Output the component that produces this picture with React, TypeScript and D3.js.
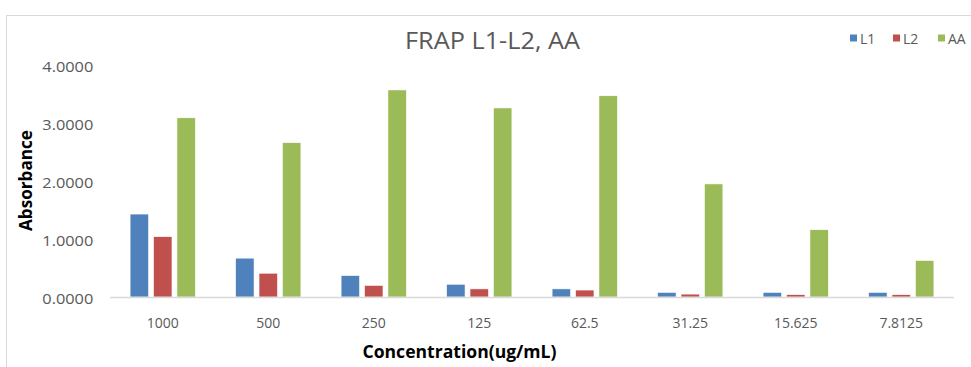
import * as d3 from 'd3';

const categories = ['1000', '500', '250', '125', '62.5', '31.25', '15.625', '7.8125'];
const seriesNames = ['L1', 'L2', 'AA'];
const l1 = [1.43, 0.67, 0.37, 0.22, 0.14, 0.08, 0.08, 0.08];
const l2 = [1.04, 0.41, 0.2, 0.14, 0.12, 0.05, 0.04, 0.04];
const aa = [3.09, 2.66, 3.57, 3.26, 3.47, 1.95, 1.16, 0.63];
const yTicks = [0, 1, 2, 3, 4];
const colors = ['#4F81BD', '#C0504D', '#9BBB59'];

const W = 971;
const H = 367;
const FONT = '"Open Sans", "Liberation Sans", sans-serif';

export default function App() {
  const series = [l1, l2, aa];
  const x = d3.scaleBand<string>().domain(categories).range([110, 954]);
  const y = d3.scaleLinear().domain([0, 4]).range([297, 65]);
  const bw = x.bandwidth();
  const barW = bw * 0.175;
  const step = bw * 0.222;
  const legendX = [850, 893, 938];

  return (
    <svg width={W} height={H} style={{ position: 'absolute', left: 0, top: 0, background: '#fff' }}>
      {/* chart frame */}
      <path d={`M6.5,${H} V15.5 H${W}`} fill="none" stroke="#d9d9d9" strokeWidth={1} />

      <text x={492.5} y={49} textAnchor="middle" fontFamily={FONT} fontSize={23} fill="#595959"
        textLength={175} lengthAdjust="spacingAndGlyphs">
        FRAP L1-L2, AA
      </text>

      {/* legend */}
      {seriesNames.map((s, i) => (
        <g key={s}>
          <rect x={legendX[i]} y={34.5} width={7} height={7} fill={colors[i]} />
          <text x={legendX[i] + 10} y={44} fontFamily={FONT} fontSize={14} fill="#595959">{s}</text>
        </g>
      ))}

      {/* y ticks */}
      {yTicks.map((t) => (
        <text key={t} x={93.3} y={y(t) + 7.3} textAnchor="end" fontFamily={FONT} fontSize={14} fill="#595959"
          textLength={51} lengthAdjust="spacingAndGlyphs">
          {d3.format('.4f')(t)}
        </text>
      ))}

      {/* bars */}
      {categories.map((c, ci) => {
        const cx = (x(c) ?? 0) + bw / 2;
        return series.map((vals, si) => (
          <rect
            key={c + si}
            x={cx + (si - 1) * step - barW / 2}
            y={y(vals[ci])}
            width={barW}
            height={y(0) - y(vals[ci])}
            fill={colors[si]}
            stroke="#fff"
            strokeWidth={0.6}
          />
        ));
      })}

      {/* x axis line */}
      <line x1={110} x2={954} y1={297.5} y2={297.5} stroke="#d9d9d9" strokeWidth={1.5} />

      {categories.map((c) => (
        <text key={c} x={(x(c) ?? 0) + bw / 2} y={327.5} textAnchor="middle" fontFamily={FONT} fontSize={14} fill="#595959">
          {c}
        </text>
      ))}

      <text x={459.5} y={358} textAnchor="middle" fontFamily={FONT} fontSize={17} fontWeight="bold" fill="#000"
        textLength={194} lengthAdjust="spacingAndGlyphs">
        Concentration(ug/mL)
      </text>
      <text
        transform={`translate(31.5,180.5) rotate(-90)`}
        textAnchor="middle"
        fontFamily={FONT}
        fontSize={17}
        fontWeight="bold"
        fill="#000"
        textLength={101}
        lengthAdjust="spacingAndGlyphs"
      >
        Absorbance
      </text>
    </svg>
  );
}
